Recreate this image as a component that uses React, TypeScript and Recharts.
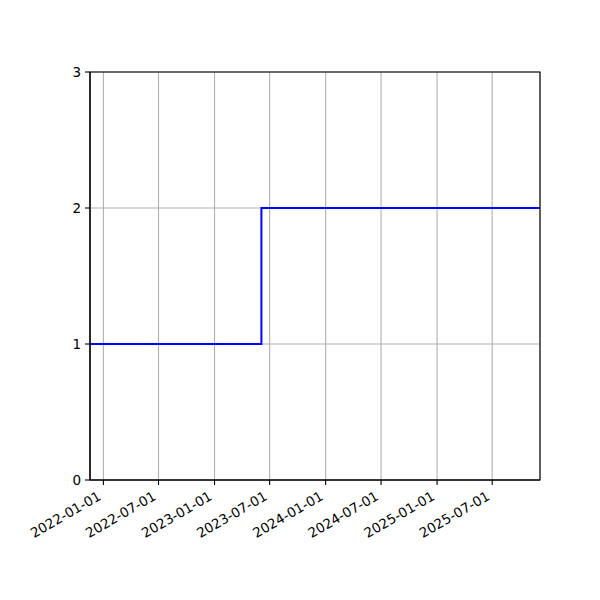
import React from "react";
import {
  LineChart,
  Line,
  XAxis,
  YAxis,
  CartesianGrid,
  ReferenceArea,
} from "recharts";

const stepDates = ["2021-11-18", "2023-06-04", "2025-12-05"];
const stepValues = [1, 2, 2];
const xTickLabels = [
  "2022-01-01",
  "2022-07-01",
  "2023-01-01",
  "2023-07-01",
  "2024-01-01",
  "2024-07-01",
  "2025-01-01",
  "2025-07-01",
];
const yTicks = [0, 1, 2, 3];

const toTs = (s: string) => {
  const [y, m, d] = s.split("-").map(Number);
  return Date.UTC(y, m - 1, d);
};
const fmt = (t: number) => new Date(t).toISOString().slice(0, 10);

const data = stepDates.map((d, i) => ({ t: toTs(d), v: stepValues[i] }));
const xTicks = xTickLabels.map(toTs);
const xMin = data[0].t;
const xMax = data[data.length - 1].t;

const FONT = "DejaVu Sans, sans-serif";

const DateTick = (props: any) => {
  const { x, y, payload } = props;
  const ax = x - 1.5;
  const ay = y + 14;
  return (
    <text
      x={ax}
      y={ay}
      transform={`rotate(-30, ${ax}, ${ay})`}
      textAnchor="end"
      fontSize={13.5}
      fontFamily={FONT}
      fill="#000"
    >
      {fmt(payload.value)}
    </text>
  );
};

export default function App() {
  return (
    <div style={{ position: "absolute", left: 0, top: 0, background: "#fff" }}>
      <LineChart
        width={600}
        height={600}
        data={data}
        margin={{ top: 72, right: 60, bottom: 60, left: 40 }}
      >
        <CartesianGrid stroke="#b0b0b0" strokeWidth={1.1} />
        <XAxis
          dataKey="t"
          type="number"
          scale="time"
          domain={[xMin, xMax]}
          ticks={xTicks}
          tick={<DateTick />}
          tickSize={5}
          tickMargin={0}
          height={60}
          interval={0}
          axisLine={{ stroke: "#000", strokeWidth: 1.1 }}
          tickLine={{ stroke: "#000", strokeWidth: 1.1 }}
        />
        <YAxis
          type="number"
          domain={[0, 3]}
          ticks={yTicks}
          width={50}
          tickSize={5}
          tickMargin={4}
          axisLine={{ stroke: "#000", strokeWidth: 1.1 }}
          tickLine={{ stroke: "#000", strokeWidth: 1.1 }}
          tick={{ fontSize: 13.5, fontFamily: FONT, fill: "#000" }}
        />
        <Line
          type="stepAfter"
          dataKey="v"
          stroke="#0000ff"
          strokeWidth={2}
          dot={false}
          isAnimationActive={false}
        />
        <ReferenceArea
          x1={xMin}
          x2={xMax}
          y1={0}
          y2={3}
          fill="none"
          fillOpacity={0}
          stroke="#000"
          strokeWidth={1.1}
          ifOverflow="visible"
        />
      </LineChart>
    </div>
  );
}
